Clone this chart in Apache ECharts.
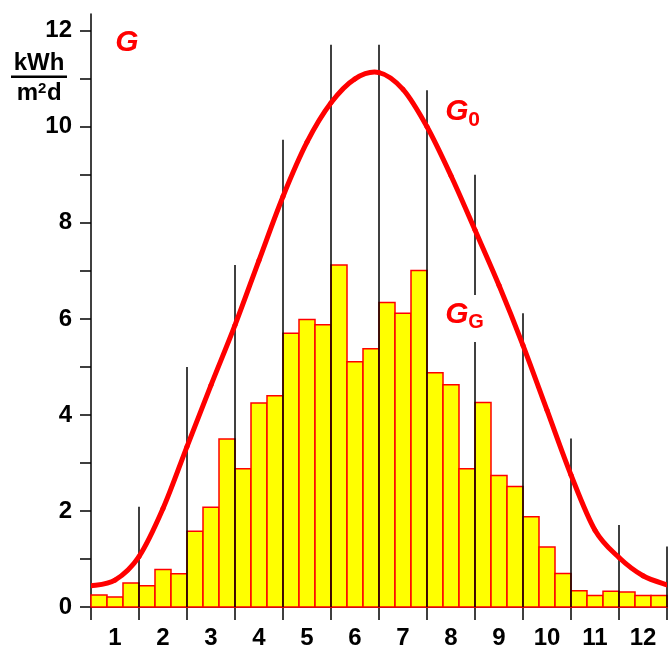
<!DOCTYPE html>
<html>
<head>
<meta charset="utf-8">
<script src="https://cdn.jsdelivr.net/npm/echarts@6/dist/echarts.min.js"></script>
<style>
html,body{margin:0;padding:0;background:#fff;}
#chart{width:669px;height:648px;}
</style>
</head>
<body>
<div id="chart"></div>
<script>
// Months (x-axis tick labels)
const months = ['1','2','3','4','5','6','7','8','9','10','11','12'];
// Y-axis labelled ticks
const yTickLabels = [0, 2, 4, 6, 8, 10, 12];
// G_G: ten-day (decade) means, 3 per month, kWh/(m² d)
const decadeValues = [
  0.25, 0.21, 0.50,
  0.44, 0.78, 0.69,
  1.58, 2.08, 3.50,
  2.88, 4.25, 4.40,
  5.70, 5.99, 5.88,
  7.12, 5.11, 5.38,
  6.34, 6.12, 7.01,
  4.88, 4.63, 2.88,
  4.26, 2.74, 2.51,
  1.88, 1.25, 0.70,
  0.34, 0.24, 0.33,
  0.31, 0.24, 0.24
];
// Vertical black lines at month boundaries 1..12
const boundaryMonths = [1, 2, 3, 4, 5, 6, 7, 8, 9, 10, 11, 12];
const boundaryHeights = [2.09, 5.0, 7.12, 9.73, 11.71, 11.71, 10.76, 9.0, 6.12, 3.51, 1.71, 1.26];
// G0 curve (month position, value)
const g0Pos = [0, 0.5, 1, 1.5, 2, 2.5, 3, 3.5, 4, 4.5, 5, 5.5, 6, 6.5, 7, 7.5, 8, 8.5, 9, 9.5, 10, 10.5, 11, 11.5, 12];
const g0Values = [0.44, 0.56, 1.05, 2.05, 3.34, 4.62, 5.87, 7.22, 8.55, 9.68, 10.5, 11.0, 11.13, 10.78, 10.0, 8.98, 7.85, 6.7, 5.45, 4.1, 2.75, 1.6, 1.03, 0.65, 0.46];

const FONT = 'Liberation Sans, Arial, sans-serif';
const chart = echarts.init(document.getElementById('chart'), null, {renderer: 'canvas'});

const option = {
  animation: false,
  backgroundColor: '#fff',
  grid: {left: 91, right: 2, top: 14, bottom: 41, containLabel: false, outerBoundsMode: 'none'},
  xAxis: {
    type: 'value', min: 0, max: 12, interval: 1,
    axisLine: {show: true, onZero: false, lineStyle: {color: '#000', width: 1.5}},
    axisTick: {show: true, length: 13, lineStyle: {color: '#000', width: 1.5}},
    splitLine: {show: false},
    axisLabel: {
      customValues: months.map((m, i) => i + 0.5),
      formatter: v => months[Math.floor(v)],
      color: '#000', fontSize: 24, fontWeight: 'bold', fontFamily: FONT, margin: 19
    }
  },
  yAxis: {
    type: 'value', min: 0, max: 12.35,
    axisLine: {show: true, lineStyle: {color: '#000', width: 1.5}},
    axisTick: {show: true, length: 11, customValues: [0,1,2,3,4,5,6,7,8,9,10,11,12], lineStyle: {color: '#000', width: 1.5}},
    splitLine: {show: false},
    axisLabel: {
      customValues: yTickLabels,
      color: '#000', fontSize: 24, fontWeight: 'bold', fontFamily: FONT, margin: 19
    }
  },
  series: [
    {
      type: 'custom',
      name: 'GG',
      z: 2,
      data: decadeValues.map((v, i) => [i / 3, (i + 1) / 3, v]),
      encode: {x: [0, 1], y: 2},
      renderItem: function (params, api) {
        const p0 = api.coord([api.value(0), api.value(2)]);
        const p1 = api.coord([api.value(1), 0]);
        return {
          type: 'rect',
          shape: {x: p0[0], y: p0[1], width: p1[0] - p0[0], height: p1[1] - p0[1]},
          style: {fill: '#ffff00', stroke: '#ff0000', lineWidth: 1.5}
        };
      }
    },
    {
      type: 'custom',
      name: 'bounds',
      z: 3,
      data: boundaryMonths.map((m, i) => [m, boundaryHeights[i]]),
      encode: {x: 0, y: 1},
      renderItem: function (params, api) {
        const a = api.coord([api.value(0), 0]);
        const b = api.coord([api.value(0), api.value(1)]);
        return {
          type: 'line',
          shape: {x1: a[0], y1: a[1], x2: b[0], y2: b[1]},
          style: {stroke: '#000', lineWidth: 1.5}
        };
      }
    },
    {
      // G0 curve: Catmull-Rom spline through the data points, one segment per item
      type: 'custom',
      name: 'G0',
      z: 4,
      clip: true,
      data: g0Pos.map((x, i) => [x, g0Values[i]]),
      encode: {x: 0, y: 1},
      renderItem: function (params, api) {
        const i = params.dataIndex;
        const n = g0Pos.length;
        if (i >= n - 1) return null;
        const P = k => {
          const j = Math.max(0, Math.min(n - 1, k));
          return api.coord([g0Pos[j], g0Values[j]]);
        };
        const p0 = P(i - 1), p1 = P(i), p2 = P(i + 1), p3 = P(i + 2);
        return {
          type: 'bezierCurve',
          shape: {
            x1: p1[0], y1: p1[1], x2: p2[0], y2: p2[1],
            cpx1: p1[0] + (p2[0] - p0[0]) / 6, cpy1: p1[1] + (p2[1] - p0[1]) / 6,
            cpx2: p2[0] - (p3[0] - p1[0]) / 6, cpy2: p2[1] - (p3[1] - p1[1]) / 6
          },
          style: {stroke: '#ff0000', lineWidth: 5, fill: null, lineCap: 'round'}
        };
      }
    }
  ],
  graphic: [
    {type: 'text', z: 100, x: 39, y: 63.5, style: {text: 'kWh', fill: '#000', font: 'bold 24px ' + FONT, textAlign: 'center', textVerticalAlign: 'middle'}},
    {type: 'rect', z: 100, shape: {x: 11, y: 75.5, width: 56, height: 2.5}, style: {fill: '#000'}},
    {type: 'text', z: 100, x: 38, y: 93.6, style: {text: 'm', fill: '#000', font: 'bold 24px ' + FONT, textAlign: 'right', textVerticalAlign: 'middle'}},
    {type: 'text', z: 100, x: 38, y: 88.4, style: {text: '2', fill: '#000', font: 'bold 15px ' + FONT, textAlign: 'left', textVerticalAlign: 'middle'}},
    {type: 'text', z: 100, x: 47, y: 93.6, style: {text: 'd', fill: '#000', font: 'bold 24px ' + FONT, textAlign: 'left', textVerticalAlign: 'middle'}},
    {type: 'text', z: 100, x: 127, y: 43, style: {text: 'G', fill: '#ff0000', font: 'italic bold 30px ' + FONT, textAlign: 'center', textVerticalAlign: 'middle'}},
    {type: 'text', z: 100, x: 457, y: 112, style: {text: 'G', fill: '#ff0000', font: 'italic bold 30px ' + FONT, textAlign: 'center', textVerticalAlign: 'middle'}},
    {type: 'text', z: 100, x: 474, y: 120, style: {text: '0', fill: '#ff0000', font: 'bold 21px ' + FONT, textAlign: 'center', textVerticalAlign: 'middle'}},
    {type: 'rect', z: 99, shape: {x: 441, y: 295, width: 48, height: 47}, style: {fill: '#fff'}},
    {type: 'text', z: 100, x: 457, y: 315, style: {text: 'G', fill: '#ff0000', font: 'italic bold 30px ' + FONT, textAlign: 'center', textVerticalAlign: 'middle'}},
    {type: 'text', z: 100, x: 476, y: 322.5, style: {text: 'G', fill: '#ff0000', font: 'bold 20px ' + FONT, textAlign: 'center', textVerticalAlign: 'middle'}}
  ]
};
chart.setOption(option);
</script>
</body>
</html>
